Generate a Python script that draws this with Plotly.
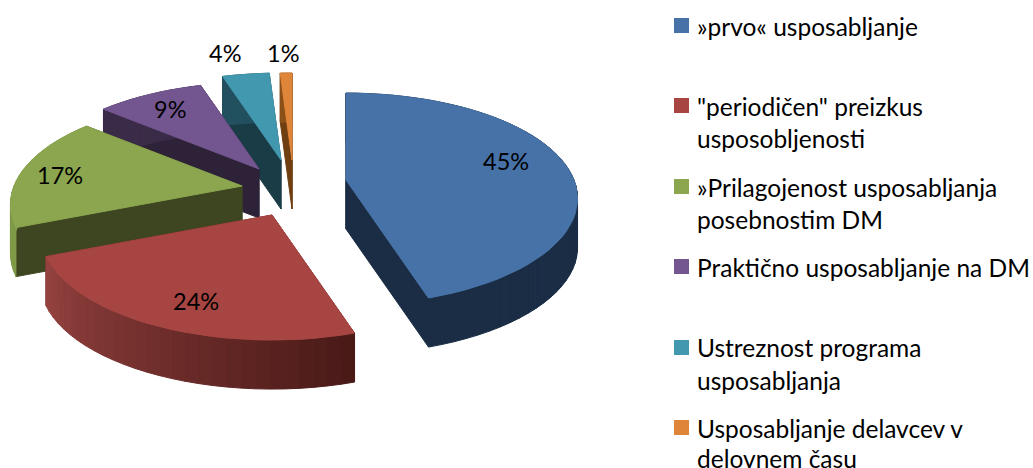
import math
import plotly.graph_objects as go

# --- data ---
categories = ["»prvo« usposabljanje",
              "\"periodičen\" preizkus<br>usposobljenosti",
              "»Prilagojenost usposabljanja<br>posebnostim DM",
              "Praktično usposabljanje na DM",
              "Ustreznost programa<br>usposabljanja",
              "Usposabljanje delavcev v<br>delovnem času"]
values = [45, 24, 17, 9, 4, 1]

# --- style ---
top_colors = ["#4672A8", "#A64542", "#8BA64E", "#735590", "#4298AF", "#DE8539"]
face_colors = ["#1A2D45", "#6A2A28", "#3D4620", "#2D2238", "#1A3C47", "#6F3F12"]
rim_from = ["#1A2D45", "#4A1A17", "#7F9A48", "#3A2C48", "#22505F", "#8A5018"]
rim_to = ["#1A2D45", "#944240", "#7F9A48", "#3A2C48", "#22505F", "#8A5018"]
apex = [(346, 180), (272, 215), (242, 186), (259, 169), (281, 160), (292, 160)]
label_xy = [(506, 161), (196, 301), (60, 175), (170, 109), (225, 53), (283, 53)]
legend_y = [[26], [106, 138], [187, 219], [267], [347, 380], [428, 458]]
square_y = [18, 98, 179, 259, 340, 420]
RX, RY, PERSP, DEPTH = 228, 106, 0.18, 49
FONT = "Lato"
LEGEND_SIZE = 24.5
LABEL_SIZE = 23.5


def rim(a, deg):
    t = math.radians(deg)
    s = 1 - PERSP * math.cos(t)
    return a[0] + RX * math.sin(t) * s, a[1] - RY * math.cos(t) * s


def mix(c1, c2, f):
    p = [int(c1[i:i + 2], 16) for i in (1, 3, 5)]
    q = [int(c2[i:i + 2], 16) for i in (1, 3, 5)]
    return "rgb(%d,%d,%d)" % tuple(round(p[i] + (q[i] - p[i]) * f) for i in range(3))


fig = go.Figure()


def poly(pts, color):
    xs = [p[0] for p in pts] + [pts[0][0]]
    ys = [p[1] for p in pts] + [pts[0][1]]
    fig.add_trace(go.Scatter(x=xs, y=ys, mode="lines", fill="toself", fillcolor=color,
                             line=dict(color=color, width=1), hoverinfo="skip",
                             showlegend=False))


total = sum(values)
spans = []
acc = 0
for v in values:
    spans.append((acc / total * 360, (acc + v) / total * 360))
    acc += v

for i in [5, 4, 3, 2, 0, 1]:
    a0, a1 = spans[i]
    c = apex[i]
    n = max(3, int((a1 - a0) / 3))
    angs = [a0 + (a1 - a0) * k / n for k in range(n + 1)]
    pts = [rim(c, d) for d in angs]
    down = lambda p: (p[0], p[1] + DEPTH)
    # cut faces
    poly([c, pts[0], down(pts[0]), down(c)], face_colors[i])
    poly([c, pts[-1], down(pts[-1]), down(c)], face_colors[i])
    # outer wall, in small strips so it can carry the shading
    for k in range(n):
        f = k / max(1, n - 1)
        poly([pts[k], pts[k + 1], down(pts[k + 1]), down(pts[k])],
             mix(rim_from[i], rim_to[i], f))
    # top
    poly([c] + pts, top_colors[i])

for (x, y), v in zip(label_xy, values):
    fig.add_annotation(x=x, y=y, text=f"{v}%", showarrow=False,
                       font=dict(family=FONT, size=LABEL_SIZE, color="#000000"))

for cat, ys, sy, col in zip(categories, legend_y, square_y, top_colors):
    fig.add_shape(type="rect", x0=674, x1=689, y0=sy, y1=sy + 15,
                  fillcolor=col, line_width=0, layer="above")
    for line, y in zip(cat.split("<br>"), ys):
        fig.add_annotation(x=695, y=y, text=line, showarrow=False, xanchor="left",
                           font=dict(family=FONT, size=LEGEND_SIZE, color="#000000"))

fig.update_layout(width=1033, height=468, margin=dict(l=0, r=0, t=0, b=0),
                  paper_bgcolor="white", plot_bgcolor="white", showlegend=False,
                  xaxis=dict(range=[0, 1033], visible=False, fixedrange=True),
                  yaxis=dict(range=[468, 0], visible=False, fixedrange=True))
fig.write_html("out.html", config=dict(displayModeBar=False),
               post_script="document.body.style.margin='0';document.body.style.overflow='hidden';")
